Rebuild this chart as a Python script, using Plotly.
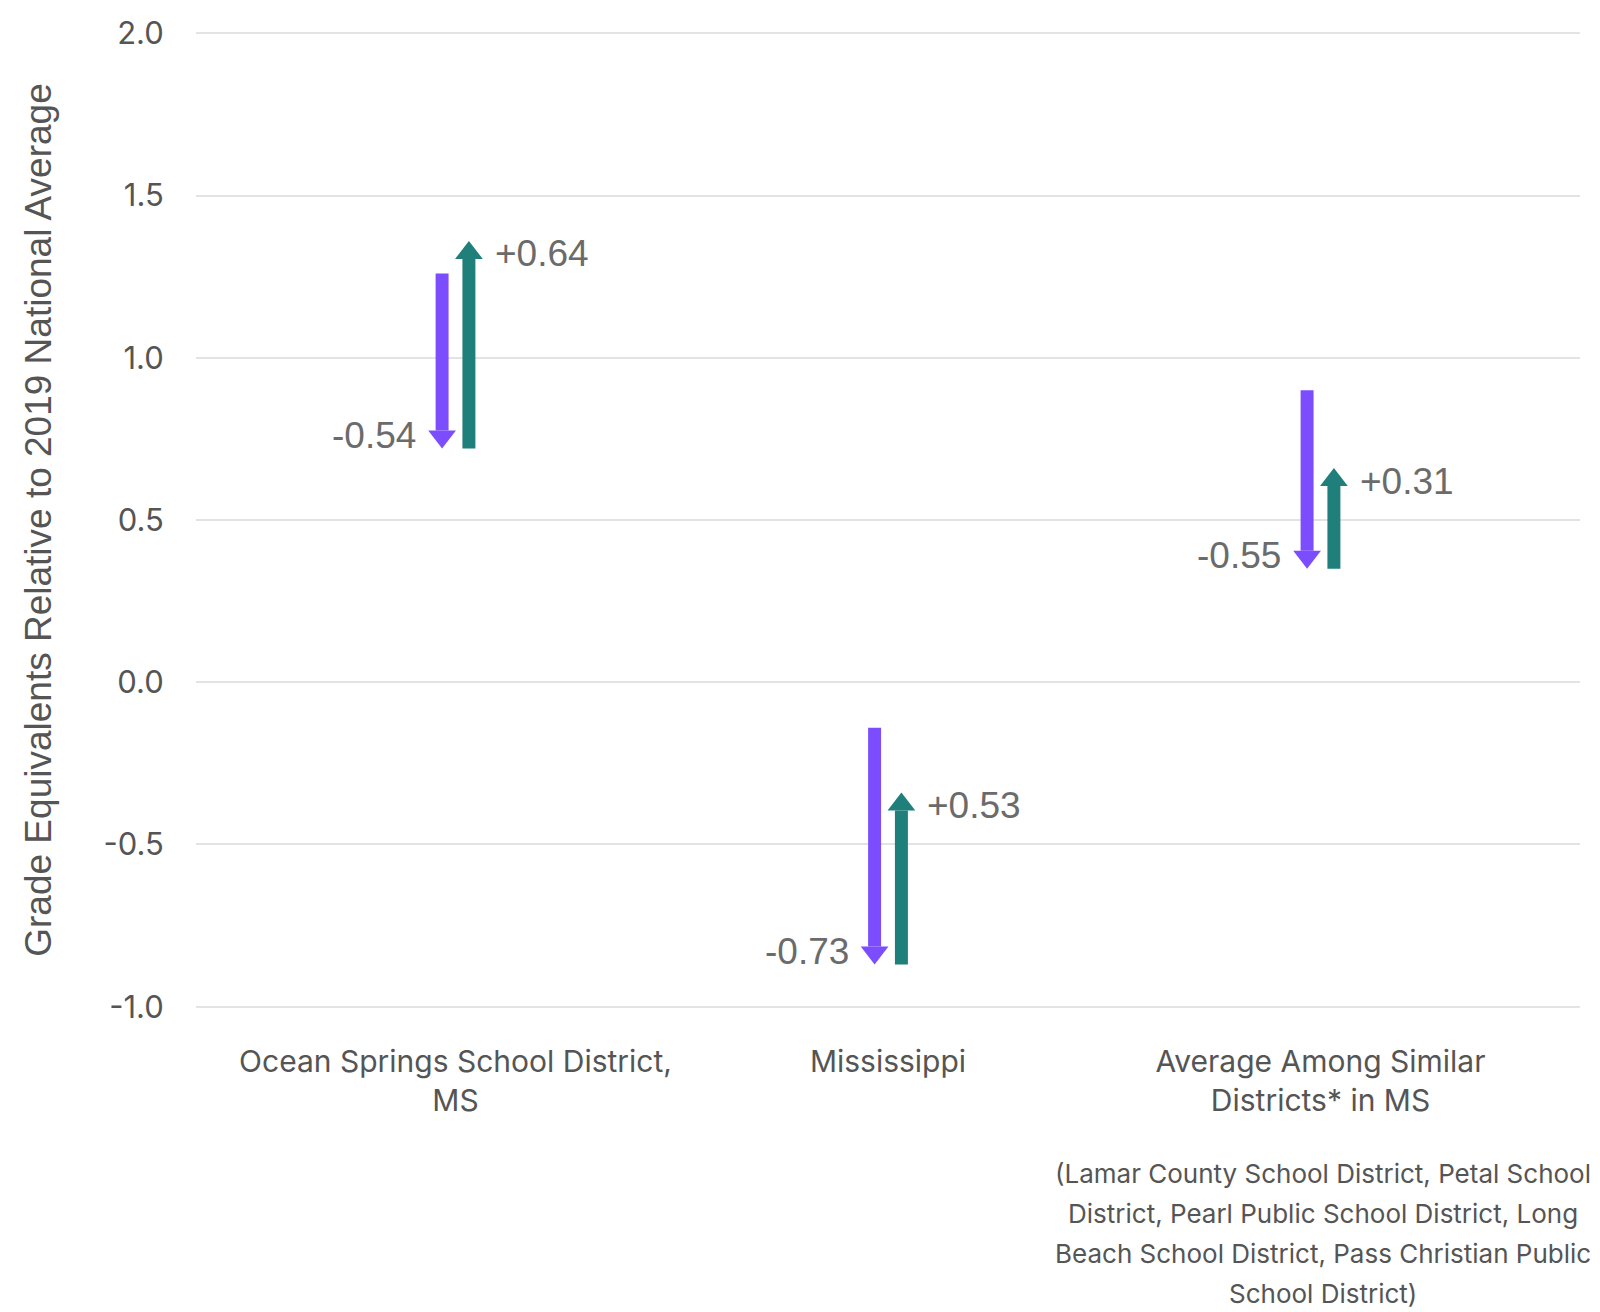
import plotly.graph_objects as go

categories = ["Ocean Springs School District,<br>MS", "Mississippi", "Average Among Similar<br>Districts* in MS"]
start_values = [1.26, -0.14, 0.90]
drops = [-0.54, -0.73, -0.55]
recoveries = [0.64, 0.53, 0.31]
y_ticks = [-1.0, -0.5, 0.0, 0.5, 1.0, 1.5, 2.0]
y_tick_labels = ["-1.0", "-0.5", "0.0", "0.5", "1.0", "1.5", "2.0"]
footnote_lines = ["(Lamar County School District, Petal School",
                  "District, Pearl Public School District, Long",
                  "Beach School District, Pass Christian Public",
                  "School District)"]

PURPLE = "#7C4DFF"
TEAL = "#1E7F7B"
LABEL = "#6B6B6B"
TICK = "#555555"

W, H = 1600, 1312
M_L, M_R, M_T, M_B = 188, 28, 24, 312
Y_RANGE = [-1.004, 2.004]
X_RANGE = [-0.6, 2.6]
ppu_y = (H - M_T - M_B) / (Y_RANGE[1] - Y_RANGE[0])

HEAD_SIZE = 24
head_r = HEAD_SIZE / 2 / ppu_y          # tip distance from marker centre
head_h = 0.75 * HEAD_SIZE / ppu_y       # full triangle height
OFF = 0.031
BW = 0.030

xs = list(range(len(categories)))
drop_end = [s + d for s, d in zip(start_values, drops)]
rec_end = [e + r for e, r in zip(drop_end, recoveries)]

fig = go.Figure()
# shafts
fig.add_trace(go.Bar(x=[x - OFF for x in xs], base=start_values, y=[d + head_h for d in drops],
                     width=BW, marker=dict(color=PURPLE, line=dict(width=0)), hoverinfo="skip"))
fig.add_trace(go.Bar(x=[x + OFF for x in xs], base=drop_end, y=[r - head_h for r in recoveries],
                     width=BW, marker=dict(color=TEAL, line=dict(width=0)), hoverinfo="skip"))
# heads
fig.add_trace(go.Scatter(x=[x - OFF for x in xs], y=[e + head_r for e in drop_end], mode="markers",
                         marker=dict(symbol="triangle-down", size=HEAD_SIZE, color=PURPLE, line=dict(width=0)),
                         hoverinfo="skip"))
fig.add_trace(go.Scatter(x=[x + OFF for x in xs], y=[e - head_r for e in rec_end], mode="markers",
                         marker=dict(symbol="triangle-up", size=HEAD_SIZE, color=TEAL, line=dict(width=0)),
                         hoverinfo="skip"))

for x, d, e in zip(xs, drops, drop_end):
    fig.add_annotation(x=x - OFF, y=e, text=f"{d:.2f}", showarrow=False, xanchor="right", yanchor="middle",
                       xshift=-24, yshift=13, font=dict(family="Liberation Sans", size=37, color=LABEL))
for x, r, e in zip(xs, recoveries, rec_end):
    fig.add_annotation(x=x + OFF, y=e, text=f"+{r:.2f}", showarrow=False, xanchor="left", yanchor="middle",
                       xshift=24, yshift=-13, font=dict(family="Liberation Sans", size=37, color=LABEL))

for i, line in enumerate(footnote_lines):
    fig.add_annotation(x=2, xref="x", y=-1.0, yref="y", yanchor="middle", xanchor="center",
                       xshift=2, yshift=-167 - 40 * i, showarrow=False, text=line,
                       font=dict(family="Inter", size=26, color=TICK))

fig.update_layout(
    width=W, height=H,
    margin=dict(l=M_L, r=M_R, t=M_T, b=M_B),
    paper_bgcolor="white", plot_bgcolor="white",
    showlegend=False, barmode="overlay",
    font=dict(family="Inter", color=TICK),
    xaxis=dict(range=X_RANGE, tickvals=xs, ticktext=categories, showgrid=False, zeroline=False,
               ticks="outside", ticklen=27, tickcolor="rgba(0,0,0,0)",
               tickfont=dict(family="Inter", size=30, color=TICK), showline=False, fixedrange=True),
    yaxis=dict(range=Y_RANGE, tickvals=y_ticks, ticktext=y_tick_labels, showgrid=True,
               gridcolor="#E3E3E3", gridwidth=2, zeroline=False, showline=False,
               ticks="outside", ticklen=25, tickcolor="rgba(0,0,0,0)",
               tickfont=dict(family="Inter", size=31, color=TICK),
               title=dict(text="Grade Equivalents Relative to 2019 National Average",
                          font=dict(family="Liberation Sans", size=37, color=TICK), standoff=40),
               automargin=False, fixedrange=True),
)

fig.write_html("out.html")
